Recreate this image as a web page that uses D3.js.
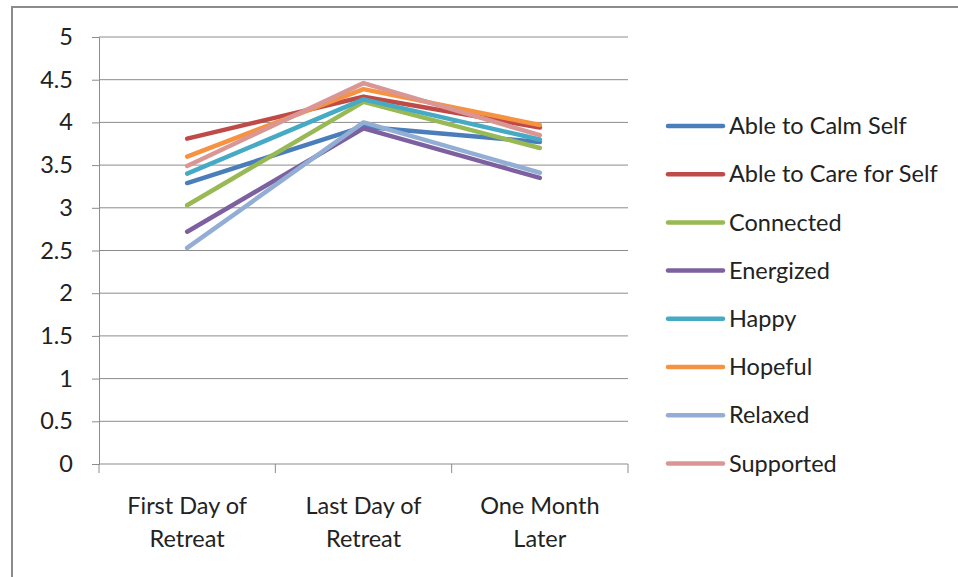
<!DOCTYPE html>
<html>
<head>
<meta charset="utf-8">
<script src="https://cdn.jsdelivr.net/npm/d3@7"></script>
<style>
  body { margin: 0; background: #fff; }
  text { font-family: Lato, "Liberation Sans", sans-serif; fill: #222; }
</style>
</head>
<body>
<svg id="chart" width="958" height="577"></svg>
<script>
// chart data
let categories = ["First Day of Retreat", "Last Day of Retreat", "One Month Later"];
let categoryLines = [["First Day of", "Retreat"], ["Last Day of", "Retreat"], ["One Month", "Later"]];
let seriesNames = ["Able to Calm Self", "Able to Care for Self", "Connected", "Energized",
  "Happy", "Hopeful", "Relaxed", "Supported"];
let calmSelf = [3.29, 3.95, 3.77];
let careSelf = [3.81, 4.30, 3.94];
let connected = [3.03, 4.24, 3.70];
let energized = [2.72, 3.93, 3.35];
let happy = [3.40, 4.27, 3.80];
let hopeful = [3.60, 4.39, 3.97];
let relaxed = [2.53, 4.00, 3.41];
let supported = [3.49, 4.46, 3.85];
let yTicks = [0, 0.5, 1, 1.5, 2, 2.5, 3, 3.5, 4, 4.5, 5];
let colors = ["#4A7EBB", "#BE4B48", "#98B954", "#7D60A0", "#46AAC5", "#F69240", "#93AED4", "#D99694"];

let seriesValues = [calmSelf, careSelf, connected, energized, happy, hopeful, relaxed, supported];

let svg = d3.select("svg#chart");

const margin = { top: 37, left: 99, right: 330, bottom: 113 };
const width = 958;
const height = 577;
const fontSize = 23.5;

// outer chart frame
svg.append("rect")
  .attr("x", 12).attr("y", 7)
  .attr("width", 960).attr("height", 590)
  .attr("fill", "none")
  .attr("stroke", "#8c8c8c")
  .attr("stroke-width", 2);

let x = d3.scaleBand()
  .domain(categories)
  .range([margin.left, width - margin.right]);

let y = d3.scaleLinear()
  .domain([0, 5])
  .range([height - margin.bottom, margin.top]);

// gridlines
svg.append("g").attr("id", "grid")
  .selectAll("line")
  .data(yTicks.slice(1))
  .join("line")
  .attr("x1", margin.left).attr("x2", x.range()[1])
  .attr("y1", d => y(d)).attr("y2", d => y(d))
  .attr("stroke", "#8c8c8c").attr("stroke-width", 1);

// y axis
let yAxis = d3.axisLeft(y).tickValues(yTicks).tickSize(7).tickPadding(19)
  .tickFormat(d3.format("~g"));
let yGroup = svg.append("g").attr("id", "y-axis")
  .attr("transform", translate(margin.left, 0))
  .call(yAxis);
yGroup.select(".domain").attr("stroke", "#8c8c8c");
yGroup.selectAll(".tick line").attr("stroke", "#8c8c8c");
yGroup.selectAll(".tick text").attr("font-size", fontSize).attr("fill", "#222")
  .style("font-family", "Lato, 'Liberation Sans', sans-serif");

// x axis line and boundary ticks
let xGroup = svg.append("g").attr("id", "x-axis");
xGroup.append("line")
  .attr("x1", margin.left).attr("x2", x.range()[1])
  .attr("y1", y(0)).attr("y2", y(0))
  .attr("stroke", "#8c8c8c");
let bounds = categories.map(c => x(c)).concat([x.range()[1]]);
xGroup.selectAll("line.tick")
  .data(bounds)
  .join("line")
  .attr("class", "tick")
  .attr("x1", d => d).attr("x2", d => d)
  .attr("y1", y(0)).attr("y2", y(0) + 9)
  .attr("stroke", "#8c8c8c");

// x labels (two lines each)
let xLabels = xGroup.selectAll("text.cat")
  .data(categories)
  .join("text")
  .attr("class", "cat")
  .attr("text-anchor", "middle")
  .attr("font-size", fontSize)
  .attr("x", d => x(d) + x.bandwidth() / 2)
  .attr("y", 514);
xLabels.each(function(d, i) {
  let t = d3.select(this);
  categoryLines[i].forEach(function(line, j) {
    t.append("tspan")
      .attr("x", x(d) + x.bandwidth() / 2)
      .attr("dy", j === 0 ? 0 : 33)
      .text(line);
  });
});

// series lines
let line = d3.line()
  .x((d, i) => x(categories[i]) + x.bandwidth() / 2)
  .y(d => y(d));

svg.append("g").attr("id", "lines")
  .selectAll("path")
  .data(seriesValues)
  .join("path")
  .attr("d", d => line(d))
  .attr("fill", "none")
  .attr("stroke", (d, i) => colors[i])
  .attr("stroke-width", 4.5)
  .attr("stroke-linecap", "round")
  .attr("stroke-linejoin", "round");

// legend
let legend = svg.append("g").attr("id", "legend")
  .attr("transform", translate(668, 126));
let items = legend.selectAll("g")
  .data(seriesNames)
  .join("g")
  .attr("transform", (d, i) => translate(0, i * 48.2));
items.append("line")
  .attr("x1", 0).attr("x2", 55)
  .attr("y1", 0).attr("y2", 0)
  .attr("stroke", (d, i) => colors[i])
  .attr("stroke-width", 4.5)
  .attr("stroke-linecap", "round");
items.append("text")
  .attr("x", 61)
  .attr("dy", "0.35em")
  .attr("font-size", fontSize)
  .text(d => d);

function translate(x, y) {
  return 'translate(' + String(x) + ',' + String(y) + ')';
}
</script>
</body>
</html>
